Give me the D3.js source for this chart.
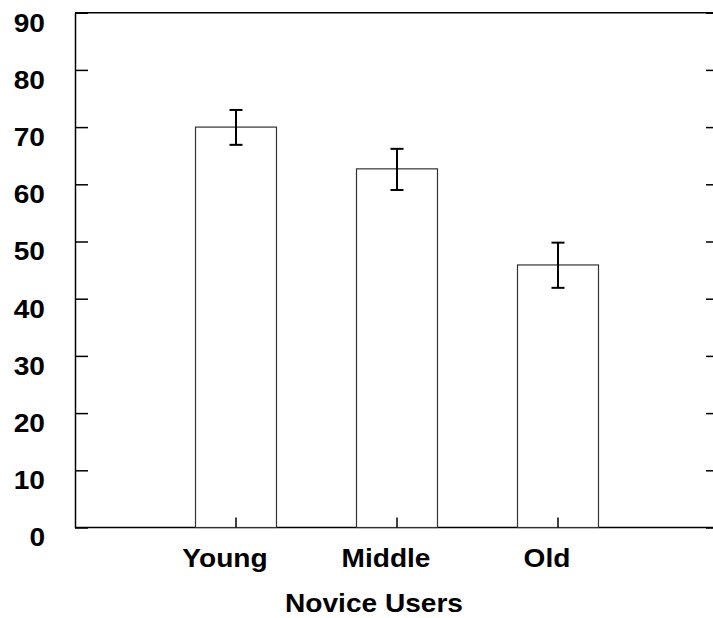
<!DOCTYPE html>
<html>
<head>
<meta charset="utf-8">
<script src="https://cdn.jsdelivr.net/npm/d3@7"></script>
<style>
  html, body { margin: 0; padding: 0; background: #fff; overflow: hidden; width: 713px; height: 618px; }
  svg { display: block; overflow: hidden; }
  text { font-family: "Liberation Sans", Arial, sans-serif; font-weight: bold; fill: #000; }
</style>
</head>
<body>
<svg id="chart" width="713" height="618" viewBox="0 0 713 618"></svg>
<script>
const categories = ["Young", "Middle", "Old"];
const means = [70.0, 62.7, 45.9];
const errLow = [66.9, 59.0, 41.9];
const errHigh = [73.0, 66.2, 49.8];
const yTicks = [0, 10, 20, 30, 40, 50, 60, 70, 80, 90];
const xTitle = "Novice Users";

const svg = d3.select("#chart");
const mLeft = 75, mRight = 719, mTop = 12.7, mBottom = 527.5;
const fs = 26.5, sx = 1.06;

const x = d3.scaleLinear().domain([0, categories.length + 1]).range([mLeft, mRight]);
const y = d3.scaleLinear().domain([0, 90]).range([mBottom, mTop]);
const barW = (x(1) - x(0)) * 0.503;

// frame lines (top and bottom)
svg.append("line").attr("x1", mLeft).attr("x2", 713).attr("y1", y(90)).attr("y2", y(90))
  .attr("stroke", "#000").attr("stroke-width", 1.5);
svg.append("line").attr("x1", mLeft).attr("x2", 713).attr("y1", y(0)).attr("y2", y(0))
  .attr("stroke", "#000").attr("stroke-width", 1.5);

// left axis
const leftAxis = d3.axisLeft(y).tickValues(yTicks).tickSizeInner(-13).tickSizeOuter(0).tickFormat("");
const gL = svg.append("g").attr("transform", `translate(${mLeft},0)`).call(leftAxis);
gL.select(".domain").attr("stroke", "#000").attr("stroke-width", 1.5);
gL.selectAll(".tick line").attr("stroke", "#000").attr("stroke-width", 1.5);

// right axis: only the inward tick stubs fall inside the canvas
const rightAxis = d3.axisRight(y).tickValues(yTicks).tickSizeInner(-13).tickSizeOuter(0).tickFormat("");
const gR = svg.append("g").attr("transform", `translate(${mRight},0)`).call(rightAxis);
gR.select(".domain").remove();
gR.selectAll(".tick line").attr("stroke", "#000").attr("stroke-width", 1.5);

// y labels
svg.append("g").selectAll("text").data(yTicks).join("text")
  .attr("transform", d => `translate(45,${y(d) + 18.8}) scale(${sx},1)`)
  .attr("text-anchor", "end").attr("font-size", fs)
  .text(d => d);

// bars
svg.append("g").selectAll("rect").data(means).join("rect")
  .attr("x", (d, i) => x(i + 1) - barW / 2)
  .attr("y", d => y(d))
  .attr("width", barW)
  .attr("height", d => y(0) - y(d))
  .attr("fill", "#fff").attr("stroke", "#333").attr("stroke-width", 1.2);

// x ticks at bottom
svg.append("g").selectAll("line").data(categories).join("line")
  .attr("x1", (d, i) => x(i + 1)).attr("x2", (d, i) => x(i + 1))
  .attr("y1", y(0)).attr("y2", y(0) - 10)
  .attr("stroke", "#000").attr("stroke-width", 1.5);

// error bars
const eb = svg.append("g").attr("stroke", "#000").attr("stroke-width", 2);
categories.forEach((c, i) => {
  const cx = x(i + 1);
  eb.append("line").attr("x1", cx).attr("x2", cx).attr("y1", y(errLow[i])).attr("y2", y(errHigh[i]));
  eb.append("line").attr("x1", cx - 6.5).attr("x2", cx + 6.5).attr("y1", y(errLow[i])).attr("y2", y(errLow[i]));
  eb.append("line").attr("x1", cx - 6.5).attr("x2", cx + 6.5).attr("y1", y(errHigh[i])).attr("y2", y(errHigh[i]));
});

// category labels
svg.append("g").selectAll("text").data(categories).join("text")
  .attr("transform", (d, i) => `translate(${x(i + 1) - 11},567) scale(${sx},1)`)
  .attr("text-anchor", "middle").attr("font-size", fs)
  .text(d => d);

// axis title
svg.append("text").attr("transform", `translate(374,611.5) scale(${sx},1)`)
  .attr("text-anchor", "middle").attr("font-size", fs)
  .text(xTitle);
</script>
</body>
</html>
